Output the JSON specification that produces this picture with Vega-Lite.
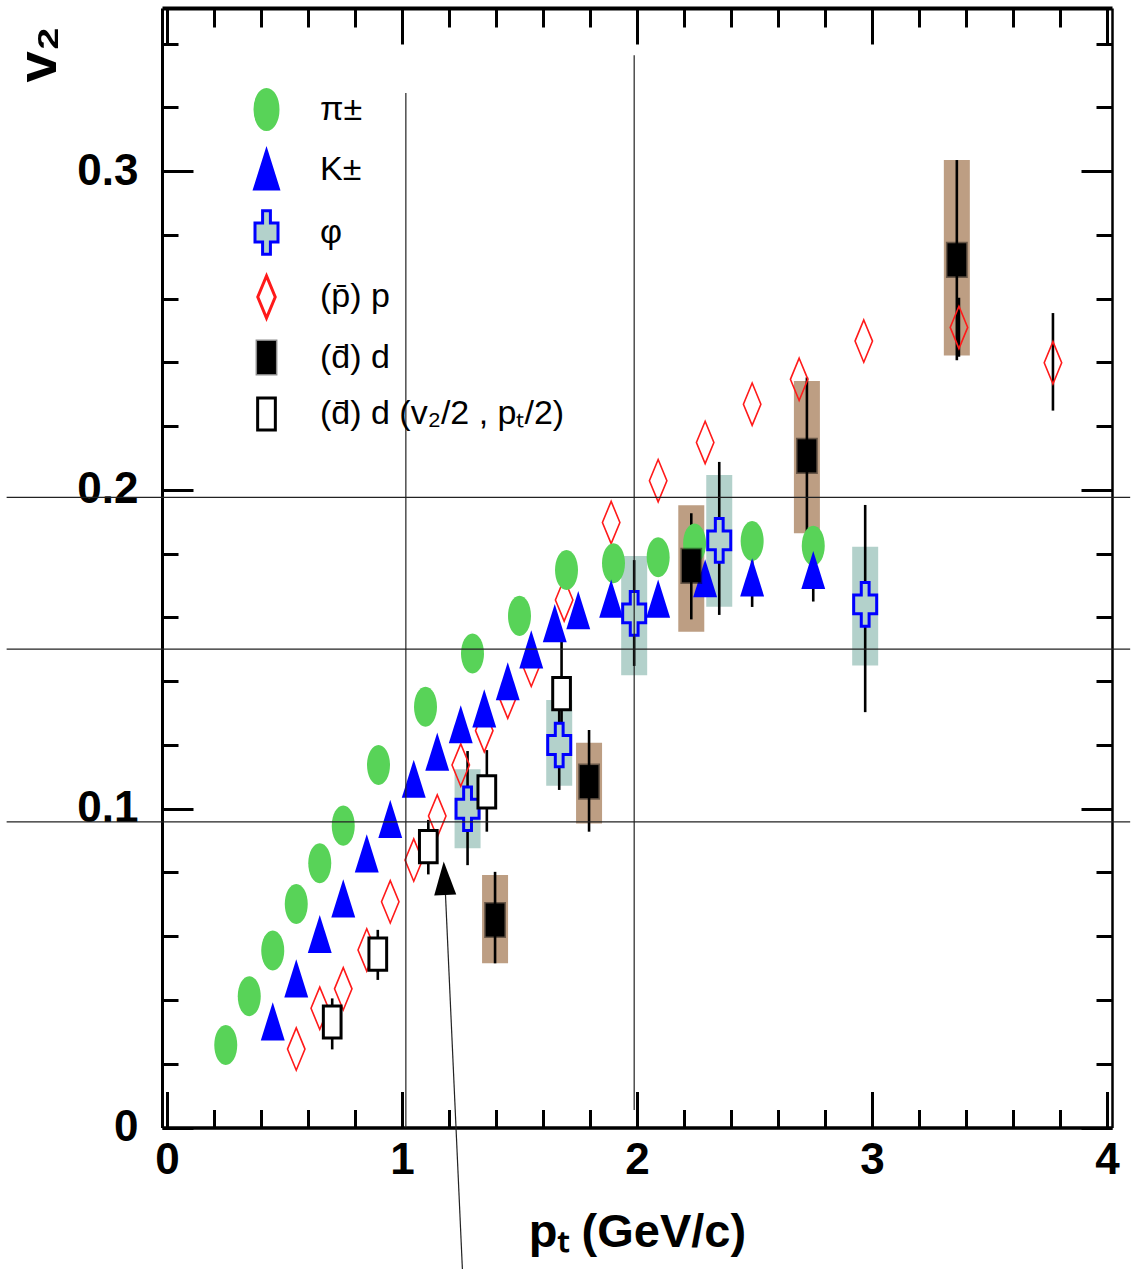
{
  "$schema": "https://vega.github.io/schema/vega-lite/v6.json",
  "width": 950,
  "height": 1119.5,
  "autosize": {"type": "none"},
  "padding": {"left": 162, "top": 8, "right": 23, "bottom": 141.5},
  "background": "white",
  "config": {"view": {"stroke": null}, "axis": {"grid": false}},
  "datasets": {
    "pts": [
      {"series": "(p\u0304) p", "x": 0.55, "y": 0.0246},
      {"series": "(p\u0304) p", "x": 0.65, "y": 0.0374},
      {"series": "(p\u0304) p", "x": 0.75, "y": 0.0435},
      {"series": "(p\u0304) p", "x": 0.85, "y": 0.0557},
      {"series": "(p\u0304) p", "x": 0.95, "y": 0.0708},
      {"series": "(p\u0304) p", "x": 1.05, "y": 0.0839},
      {"series": "(p\u0304) p", "x": 1.15, "y": 0.0977},
      {"series": "(p\u0304) p", "x": 1.25, "y": 0.1137},
      {"series": "(p\u0304) p", "x": 1.35, "y": 0.1245},
      {"series": "(p\u0304) p", "x": 1.45, "y": 0.135},
      {"series": "(p\u0304) p", "x": 1.55, "y": 0.145},
      {"series": "(p\u0304) p", "x": 1.69, "y": 0.1655},
      {"series": "(p\u0304) p", "x": 1.89, "y": 0.1898},
      {"series": "(p\u0304) p", "x": 2.09, "y": 0.2029},
      {"series": "(p\u0304) p", "x": 2.29, "y": 0.2149},
      {"series": "(p\u0304) p", "x": 2.49, "y": 0.2269},
      {"series": "(p\u0304) p", "x": 2.69, "y": 0.2347},
      {"series": "(p\u0304) p", "x": 2.965, "y": 0.2467},
      {"series": "(p\u0304) p", "x": 3.37, "y": 0.251, "lo": 0.2418, "hi": 0.2603},
      {"series": "(p\u0304) p", "x": 3.77, "y": 0.2399, "lo": 0.2249, "hi": 0.2555},
      {"series": "\u03c0\u00b1", "x": 0.25, "y": 0.0259},
      {"series": "\u03c0\u00b1", "x": 0.35, "y": 0.0412},
      {"series": "\u03c0\u00b1", "x": 0.45, "y": 0.0555},
      {"series": "\u03c0\u00b1", "x": 0.55, "y": 0.0701},
      {"series": "\u03c0\u00b1", "x": 0.65, "y": 0.0829},
      {"series": "\u03c0\u00b1", "x": 0.75, "y": 0.0947},
      {"series": "\u03c0\u00b1", "x": 0.9, "y": 0.1137},
      {"series": "\u03c0\u00b1", "x": 1.1, "y": 0.132},
      {"series": "\u03c0\u00b1", "x": 1.3, "y": 0.1487},
      {"series": "\u03c0\u00b1", "x": 1.5, "y": 0.1605},
      {"series": "\u03c0\u00b1", "x": 1.7, "y": 0.1749},
      {"series": "\u03c0\u00b1", "x": 1.9, "y": 0.177},
      {"series": "\u03c0\u00b1", "x": 2.09, "y": 0.1789},
      {"series": "\u03c0\u00b1", "x": 2.245, "y": 0.1832},
      {"series": "\u03c0\u00b1", "x": 2.49, "y": 0.184},
      {"series": "\u03c0\u00b1", "x": 2.75, "y": 0.1825},
      {"series": "K\u00b1", "x": 0.45, "y": 0.0333},
      {"series": "K\u00b1", "x": 0.55, "y": 0.0468},
      {"series": "K\u00b1", "x": 0.65, "y": 0.0607},
      {"series": "K\u00b1", "x": 0.75, "y": 0.0719},
      {"series": "K\u00b1", "x": 0.85, "y": 0.086},
      {"series": "K\u00b1", "x": 0.95, "y": 0.0968},
      {"series": "K\u00b1", "x": 1.05, "y": 0.1094},
      {"series": "K\u00b1", "x": 1.15, "y": 0.1179},
      {"series": "K\u00b1", "x": 1.25, "y": 0.1265},
      {"series": "K\u00b1", "x": 1.35, "y": 0.1315},
      {"series": "K\u00b1", "x": 1.45, "y": 0.14},
      {"series": "K\u00b1", "x": 1.55, "y": 0.15},
      {"series": "K\u00b1", "x": 1.65, "y": 0.1582},
      {"series": "K\u00b1", "x": 1.75, "y": 0.1623},
      {"series": "K\u00b1", "x": 1.89, "y": 0.1659},
      {"series": "K\u00b1", "x": 2.09, "y": 0.1659},
      {"series": "K\u00b1", "x": 2.29, "y": 0.1723},
      {"series": "K\u00b1", "x": 2.49, "y": 0.1726, "lo": 0.1633, "hi": 0.1834},
      {"series": "K\u00b1", "x": 2.75, "y": 0.1749, "lo": 0.165, "hi": 0.1846},
      {"series": "\u03c6", "x": 1.279, "y": 0.1, "lo": 0.0823, "hi": 0.1181, "slo": 0.0876, "shi": 0.1124},
      {"series": "\u03c6", "x": 1.669, "y": 0.12, "lo": 0.1059, "hi": 0.1351, "slo": 0.1072, "shi": 0.1341},
      {"series": "\u03c6", "x": 1.988, "y": 0.1613, "lo": 0.1448, "hi": 0.178, "slo": 0.1419, "shi": 0.1793},
      {"series": "\u03c6", "x": 2.35, "y": 0.1842, "lo": 0.1608, "hi": 0.2088, "slo": 0.1634, "shi": 0.2047},
      {"series": "\u03c6", "x": 2.971, "y": 0.1641, "lo": 0.1303, "hi": 0.1953, "slo": 0.1449, "shi": 0.1822},
      {"series": "(d\u0304) d", "x": 1.396, "y": 0.0651, "lo": 0.0515, "hi": 0.0802, "slo": 0.0515, "shi": 0.0792},
      {"series": "(d\u0304) d", "x": 1.796, "y": 0.1085, "lo": 0.0928, "hi": 0.1247, "slo": 0.0954, "shi": 0.1207},
      {"series": "(d\u0304) d", "x": 2.231, "y": 0.1762, "lo": 0.1594, "hi": 0.1927, "slo": 0.1555, "shi": 0.1952},
      {"series": "(d\u0304) d", "x": 2.723, "y": 0.2107, "lo": 0.1864, "hi": 0.2353, "slo": 0.1864, "shi": 0.2342},
      {"series": "(d\u0304) d", "x": 3.361, "y": 0.2722, "lo": 0.2407, "hi": 0.3035, "slo": 0.2422, "shi": 0.3035},
      {"series": "(d\u0304) d (v\u2082/2 , p\u209c/2)", "x": 0.703, "y": 0.0331, "lo": 0.0245, "hi": 0.0405},
      {"series": "(d\u0304) d (v\u2082/2 , p\u209c/2)", "x": 0.897, "y": 0.0544, "lo": 0.0463, "hi": 0.062},
      {"series": "(d\u0304) d (v\u2082/2 , p\u209c/2)", "x": 1.112, "y": 0.0881, "lo": 0.0794, "hi": 0.0965},
      {"series": "(d\u0304) d (v\u2082/2 , p\u209c/2)", "x": 1.361, "y": 0.1053, "lo": 0.0928, "hi": 0.1184},
      {"series": "(d\u0304) d (v\u2082/2 , p\u209c/2)", "x": 1.679, "y": 0.1361, "lo": 0.1205, "hi": 0.1524}
    ],
    "lines": [
      {"x1": -0.6824, "x2": 4.0986, "y1": 0.1977, "y2": 0.1977},
      {"x1": -0.6824, "x2": 4.0986, "y1": 0.1501, "y2": 0.1501},
      {"x1": -0.6824, "x2": 4.0986, "y1": 0.0959, "y2": 0.0959},
      {"x1": 1.0164, "x2": 1.0164, "y1": 0, "y2": 0.3245},
      {"x1": 1.988, "x2": 1.988, "y1": 0.0055, "y2": 0.3364},
      {"x1": 1.257, "x2": 1.182, "y1": -0.0444, "y2": 0.078}
    ],
    "arrowhead": [
      {"x": 1.1807, "y": 0.0782}
    ]
  },
  "layer": [
    {
      "data": {"name": "pts"},
      "transform": [{"filter": "isValid(datum.slo)"}],
      "mark": {"type": "bar", "width": 26},
      "encoding": {
        "x": {
          "field": "x", "type": "quantitative",
          "scale": {"domain": [0, 4], "nice": false, "zero": false},
          "axis": {
            "orient": "bottom",
            "values": [0, 0.2, 0.4, 0.6, 0.8, 1, 1.2, 1.4, 1.6, 1.8, 2, 2.2, 2.4, 2.6, 2.8, 3, 3.2, 3.4, 3.6, 3.8, 4],
            "format": "~g",
            "domainColor": "black", "domainWidth": 3.5,
            "tickColor": "black", "tickWidth": 3,
            "tickSize": {"condition": {"test": "datum.value % 1 === 0", "value": -36}, "value": -18},
            "labelExpr": "datum.value % 1 === 0 ? datum.label : ''",
            "labelFont": "Liberation Sans, Arial, sans-serif",
            "labelFontSize": 44, "labelFontWeight": "bold", "labelColor": "black",
            "labelBaseline": "middle", "labelPadding": 68.5, "labelFlush": false, "labelOverlap": false,
            "title": "p\u209c (GeV/c)",
            "titleFont": "Liberation Sans, Arial, sans-serif",
            "titleFontSize": 47, "titleFontWeight": "bold", "titleColor": "black",
            "titleBaseline": "alphabetic", "titleAlign": "center", "titleX": 475, "titleY": 119
          }
        },
        "y": {
          "field": "slo", "type": "quantitative",
          "scale": {"domain": [0, 0.3512], "nice": false, "zero": false},
          "axis": {
            "orient": "left",
            "values": [0, 0.02, 0.04, 0.06, 0.08, 0.1, 0.12, 0.14, 0.16, 0.18, 0.2, 0.22, 0.24, 0.26, 0.28, 0.3, 0.32, 0.34],
            "format": "~g",
            "domainColor": "black", "domainWidth": 3,
            "tickColor": "black", "tickWidth": 3,
            "tickSize": {"condition": {"test": "datum.value === 0 || datum.value === 0.1 || datum.value === 0.2 || datum.value === 0.3", "value": -31}, "value": -16},
            "labelExpr": "datum.value === 0 || datum.value === 0.1 || datum.value === 0.2 || datum.value === 0.3 ? datum.label : ''",
            "labelFont": "Liberation Sans, Arial, sans-serif",
            "labelFontSize": 44, "labelFontWeight": "bold", "labelColor": "black",
            "labelBaseline": "middle", "labelAlign": "right", "labelPadding": 55, "labelOverlap": false, "labelFlush": false,
            "title": "v\u2082",
            "titleFont": "Liberation Sans, Arial, sans-serif",
            "titleFontSize": 56, "titleFontWeight": "bold", "titleColor": "black",
            "titleAngle": 270, "titleAlign": "center", "titleBaseline": "middle",
            "titleX": -124, "titleY": 46
          }
        },
        "y2": {"field": "shi"},
        "color": {
          "field": "series", "type": "nominal",
          "scale": {"domain": ["\u03c6", "(d\u0304) d"], "range": ["#b3d1cb", "#bd9e83"]},
          "legend": null
        }
      }
    },
    {
      "data": {"name": "pts"},
      "transform": [{"filter": "isValid(datum.lo)"}],
      "mark": {"type": "rule", "color": "black", "strokeWidth": 2.6},
      "encoding": {
        "x": {
          "field": "x", "type": "quantitative",
          "scale": {"domain": [0, 4], "nice": false, "zero": false},
          "axis": {
            "orient": "top",
            "values": [0, 0.2, 0.4, 0.6, 0.8, 1, 1.2, 1.4, 1.6, 1.8, 2, 2.2, 2.4, 2.6, 2.8, 3, 3.2, 3.4, 3.6, 3.8, 4],
            "domainColor": "black", "domainWidth": 4,
            "tickColor": "black", "tickWidth": 3,
            "tickSize": {"condition": {"test": "datum.value % 1 === 0", "value": -36}, "value": -19},
            "labels": false, "title": null
          }
        },
        "y": {
          "field": "lo", "type": "quantitative",
          "scale": {"domain": [0, 0.3512], "nice": false, "zero": false},
          "axis": {
            "orient": "right",
            "values": [0, 0.02, 0.04, 0.06, 0.08, 0.1, 0.12, 0.14, 0.16, 0.18, 0.2, 0.22, 0.24, 0.26, 0.28, 0.3, 0.32, 0.34],
            "domainColor": "black", "domainWidth": 2.5,
            "tickColor": "black", "tickWidth": 3,
            "tickSize": {"condition": {"test": "datum.value === 0 || datum.value === 0.1 || datum.value === 0.2 || datum.value === 0.3", "value": -31}, "value": -16},
            "labels": false, "title": null
          }
        },
        "y2": {"field": "hi"}
      }
    },
    {
      "data": {"name": "pts"},
      "mark": {"type": "point", "filled": true, "size": 2116, "opacity": 1},
      "encoding": {
        "x": {"field": "x", "type": "quantitative", "scale": {"domain": [0, 4], "nice": false, "zero": false}, "axis": null},
        "y": {"field": "y", "type": "quantitative", "scale": {"domain": [0, 0.3512], "nice": false, "zero": false}, "axis": null},
        "shape": {
          "field": "series", "type": "nominal",
          "scale": {
            "domain": ["\u03c0\u00b1", "K\u00b1", "\u03c6", "(p\u0304) p", "(d\u0304) d", "(d\u0304) d (v\u2082/2 , p\u209c/2)"],
            "range": [
              "M-0.5,0C-0.5,-0.48,-0.276,-0.87,0,-0.87C0.276,-0.87,0.5,-0.48,0.5,0C0.5,0.48,0.276,0.87,0,0.87C-0.276,0.87,-0.5,0.48,-0.5,0Z",
              "M0,-0.83L0.52,0.83L-0.52,0.83Z",
              "M-0.17,-0.95H0.17V-0.41H0.5V0.41H0.17V0.95H-0.17V0.41H-0.5V-0.41H-0.17Z",
              "M0,-0.92L0.38,0L0,0.92L-0.38,0Z",
              "M-0.41,-0.72H0.41V0.72H-0.41Z",
              "M-0.385,-0.7H0.385V0.7H-0.385Z"
            ]
          },
          "legend": {
            "orient": "none", "legendX": 80, "legendY": 77, "title": null, "padding": 0,
            "labelFont": "Liberation Sans, Arial, sans-serif",
            "labelFontSize": 34, "labelColor": "black", "labelOffset": 29, "labelLimit": 0,
            "rowPadding": 8.5, "symbolSize": 2116, "symbolOpacity": 1, "symbolStrokeWidth": 3,
            "encode": {"symbols": {"update": {
              "strokeWidth": {"signal": "datum.value === '(p\u0304) p' ? 1.6 : ((datum.value === '\u03c0\u00b1' || datum.value === 'K\u00b1') ? 0 : 3)"}
            }}}
          }
        },
        "fill": {
          "field": "series", "type": "nominal",
          "scale": {
            "domain": ["\u03c0\u00b1", "K\u00b1", "\u03c6", "(p\u0304) p", "(d\u0304) d", "(d\u0304) d (v\u2082/2 , p\u209c/2)"],
            "range": ["#58d358", "#0000ff", "#b3d1cb", "transparent", "#000000", "#ffffff"]
          }
        },
        "stroke": {
          "field": "series", "type": "nominal",
          "scale": {
            "domain": ["\u03c0\u00b1", "K\u00b1", "\u03c6", "(p\u0304) p", "(d\u0304) d", "(d\u0304) d (v\u2082/2 , p\u209c/2)"],
            "range": ["#58d358", "#0000ff", "#0000ff", "#ff1a1a", "rgba(0,0,0,0.45)", "#000000"]
          }
        },
        "strokeWidth": {
          "condition": [
            {"test": "datum.series === '(p\u0304) p'", "value": 1.6},
            {"test": "datum.series === '\u03c0\u00b1' || datum.series === 'K\u00b1'", "value": 0}
          ],
          "value": 3
        }
      }
    },
    {
      "data": {"name": "lines"},
      "mark": {"type": "rule", "color": "#222222", "strokeWidth": 1.2},
      "encoding": {
        "x": {"field": "x1", "type": "quantitative", "scale": {"domain": [0, 4], "nice": false, "zero": false}, "axis": null},
        "x2": {"field": "x2"},
        "y": {"field": "y1", "type": "quantitative", "scale": {"domain": [0, 0.3512], "nice": false, "zero": false}, "axis": null},
        "y2": {"field": "y2"}
      }
    },
    {
      "data": {"name": "arrowhead"},
      "mark": {"type": "point", "filled": true, "size": 2116, "opacity": 1, "color": "black", "angle": -2.6, "shape": "M0,-0.725L0.48,0.725L-0.48,0.725Z"},
      "encoding": {
        "x": {"field": "x", "type": "quantitative", "scale": {"domain": [0, 4], "nice": false, "zero": false}, "axis": null},
        "y": {"field": "y", "type": "quantitative", "scale": {"domain": [0, 0.3512], "nice": false, "zero": false}, "axis": null}
      }
    }
  ],
  "resolve": {"axis": {"x": "independent", "y": "independent"}}
}
